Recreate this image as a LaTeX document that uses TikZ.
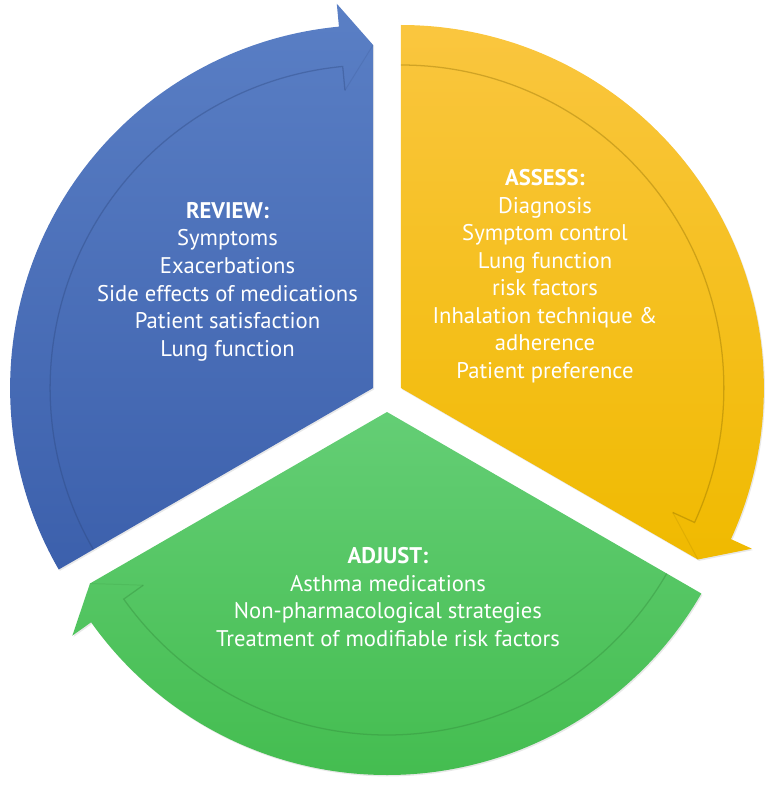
\documentclass[tikz,border=0pt]{standalone}
\usepackage{fontspec}
\setmainfont{PT Sans}
\usepackage{xcolor}
\usepackage{tikz}
\usetikzlibrary{shadows}

\definecolor{reviewtop}{HTML}{5A7FC5}
\definecolor{reviewbot}{HTML}{3C60AC}
\definecolor{assesstop}{HTML}{FAC63F}
\definecolor{assessbot}{HTML}{F0BA00}
\definecolor{adjusttop}{HTML}{64CE75}
\definecolor{adjustbot}{HTML}{44BD50}

\begin{document}
\begin{tikzpicture}[
  x=0.025cm, y=0.025cm,
  % Pie slice with its curved arrow band
  seg/.style={drop shadow={opacity=0.18, shadow xshift=0.8pt, shadow yshift=-1pt}},
  % Shaded inner rim of the arrow band
  rim/.style={line width=0.9pt, opacity=0.35},
  % Faint edge of the arrow head over the slice
  tiprim/.style={line width=0.7pt, opacity=0.15},
  % White text block inside a slice
  lbl/.style={text=white, align=center, anchor=north, inner sep=0pt,
              font=\fontsize{16.1}{19.6}\selectfont}
]
\useasboundingbox (-387,-394) rectangle (387,396);

% ── Review slice (upper left) ──────────────────────────────────────────────
\begin{scope}[shift={(-13.9,8)}]
  \shade[seg, top color=reviewtop, bottom color=reviewbot]
    (0,0) -- (210:363) arc[start angle=210, end angle=95.4, radius=363]
    -- (95.4:386) -- (90:343) -- cycle;
  \draw[rim, reviewbot!70!black]
    (210:323) arc[start angle=210, end angle=95.4, radius=323] -- (95.4:299);
  \draw[tiprim, reviewbot!70!black] (95.4:299) -- (90:343);
\end{scope}

% ── Assess slice (upper right) ─────────────────────────────────────────────
\begin{scope}[shift={(13.9,8)}]
  \shade[seg, top color=assesstop, bottom color=assessbot]
    (0,0) -- (90:363) arc[start angle=90, end angle=-24.6, radius=363]
    -- (-24.6:386) -- (-30:343) -- cycle;
  \draw[rim, assessbot!55!black]
    (90:323) arc[start angle=90, end angle=-24.6, radius=323] -- (-24.6:299);
  \draw[tiprim, assessbot!55!black] (-24.6:299) -- (-30:343);
\end{scope}

% ── Adjust slice (bottom) ──────────────────────────────────────────────────
\begin{scope}[shift={(0,-16)}]
  \shade[seg, top color=adjusttop, bottom color=adjustbot]
    (0,0) -- (330:363) arc[start angle=330, end angle=215.4, radius=363]
    -- (215.4:386) -- (210:343) -- cycle;
  \draw[rim, adjustbot!70!black]
    (330:323) arc[start angle=330, end angle=215.4, radius=323] -- (215.4:299);
  \draw[tiprim, adjustbot!70!black] (215.4:299) -- (210:343);
\end{scope}

% ── Labels ─────────────────────────────────────────────────────────────────
\node[lbl] (review) at (-159.5,194)
  {\textbf{REVIEW:}\\Symptoms\\Exacerbations\\Side effects of medications\\Patient satisfaction\\Lung function};
\node[lbl] (assess) at (158,227)
  {\textbf{ASSESS:}\\Diagnosis\\Symptom control\\Lung function\\risk factors\\Inhalation technique \&\\adherence\\Patient preference};
\node[lbl] (adjust) at (1,-151)
  {\textbf{ADJUST:}\\Asthma medications\\Non-pharmacological strategies\\Treatment of modifiable risk factors};

\end{tikzpicture}
\end{document}
